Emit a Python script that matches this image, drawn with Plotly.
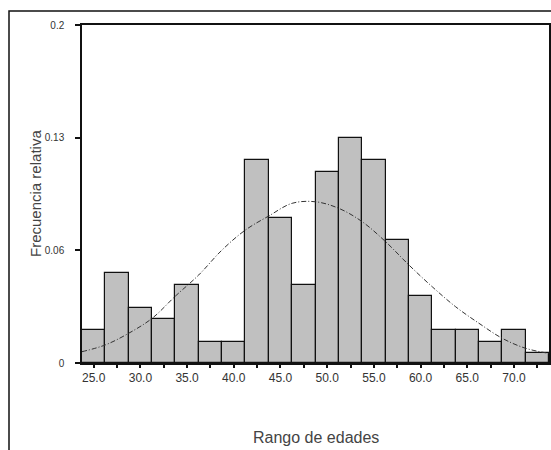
import plotly.graph_objects as go

# Bin centers (age ranges) and relative frequencies
bin_centers = [25.0, 27.5, 30.0, 32.5, 35.0, 37.5, 40.0, 42.5, 45.0, 47.5,
               50.0, 52.5, 55.0, 57.5, 60.0, 62.5, 65.0, 67.5, 70.0, 72.5]
rel_freq = [0.0195, 0.0531, 0.0327, 0.0259, 0.0462, 0.0126, 0.0126, 0.1200,
            0.0860, 0.0462, 0.1132, 0.1333, 0.1200, 0.0728, 0.0396, 0.0195,
            0.0195, 0.0126, 0.0195, 0.0057]

# Fitted normal curve at the bin edges
curve_x = [23.75, 26.25, 28.75, 31.25, 33.75, 36.25, 38.75, 41.25, 43.75, 46.25,
           48.75, 51.25, 53.75, 56.25, 58.75, 61.25, 63.75, 66.25, 68.75, 71.25, 73.75]
curve_y = [0.0067, 0.0107, 0.0176, 0.0264, 0.0396, 0.0521, 0.0669, 0.0787, 0.0870,
           0.0945, 0.0954, 0.0915, 0.0836, 0.0718, 0.0580, 0.0451, 0.0333, 0.0235,
           0.0146, 0.0087, 0.0057]

x_tick_labels = ["25.0", "", "30.0", "", "35.0", "", "40.0", "", "45.0", "",
                 "50.0", "", "55.0", "", "60.0", "", "65.0", "", "70.0", ""]
y_tick_vals = [0, 0.0667, 0.1333, 0.2]
y_tick_labels = ["0", "0.06", "0.13", "0.2"]

fig = go.Figure()
fig.add_trace(go.Bar(
    x=bin_centers, y=rel_freq, width=2.5,
    marker=dict(color="#c0c0c0", line=dict(color="#111111", width=1.2)),
    showlegend=False, hoverinfo="skip",
))
fig.add_trace(go.Scatter(
    x=curve_x, y=curve_y, mode="lines",
    line=dict(color="#333333", width=1, dash="5px,2px,1px,2px", shape="spline"),
    showlegend=False, hoverinfo="skip",
))

L, R, T, B = 82, 2, 25, 87
W, H = 551, 450
pw, ph = W - L - R, H - T - B

def px_x(px):
    return (px - L) / pw

def px_y(py):
    return (H - B - py) / ph

fig.update_layout(
    width=W, height=H,
    margin=dict(l=L, r=R, t=T, b=B, pad=0, autoexpand=False),
    paper_bgcolor="white", plot_bgcolor="white",
    bargap=0,
    font=dict(family="Liberation Sans, Arial, sans-serif", color="#333333"),
    shapes=[dict(type="rect", xref="paper", yref="paper",
                 x0=px_x(9), x1=1.2, y0=-0.6, y1=px_y(11),
                 line=dict(color="#111111", width=1.5), layer="below")],
    annotations=[
        dict(text="Rango de edades", xref="paper", yref="paper",
             x=px_x(316), y=px_y(437), xanchor="center", yanchor="middle",
             showarrow=False, font=dict(size=16, color="#444444")),
        dict(text="Frecuencia relativa", xref="paper", yref="paper",
             x=px_x(35), y=px_y(194), xanchor="center", yanchor="middle",
             textangle=-90, showarrow=False, font=dict(size=15, color="#444444")),
    ],
)
fig.update_xaxes(
    range=[23.75, 73.75], tickmode="array", tickvals=bin_centers, ticktext=x_tick_labels,
    ticks="outside", ticklen=3, tickwidth=2, tickcolor="#111111",
    showline=True, linecolor="#111111", linewidth=1.5, mirror=True,
    showgrid=False, zeroline=False, automargin=False,
    tickfont=dict(size=12, color="#333333"),
)
fig.update_yaxes(
    range=[0, 0.2], tickmode="array", tickvals=y_tick_vals, ticktext=y_tick_labels,
    ticks="outside", ticklen=5, tickwidth=2, tickcolor="#111111",
    showline=True, linecolor="#111111", linewidth=1.5, mirror=True,
    showgrid=False, zeroline=False, automargin=False,
    tickfont=dict(size=10, color="#333333"), ticklabelstandoff=9,
)

fig.write_html(
    "out.html",
    config={"displayModeBar": False},
    post_script="document.body.style.margin='0';document.body.style.overflow='hidden';",
)
